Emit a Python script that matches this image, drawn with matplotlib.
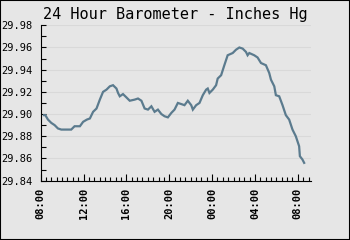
import matplotlib
matplotlib.use("Agg")
import matplotlib.pyplot as plt
from matplotlib.ticker import MultipleLocator, FixedLocator, FuncFormatter

# hours since 08:00 on day 1
hours = [0.31, 0.43, 0.68, 0.99, 1.30, 1.61, 1.92, 2.26, 2.54, 2.85, 3.16, 3.66, 3.96,
         4.31, 4.59, 4.89, 5.21, 5.52, 5.82, 6.14, 6.45, 6.75, 7.07, 7.22, 7.38, 7.68,
         8.00, 8.31, 8.77, 9.08, 9.40, 9.70, 10.01, 10.33, 10.63, 10.94, 11.26, 11.56,
         11.87, 12.19, 12.49, 12.80, 13.12, 13.42, 13.73, 14.05, 14.20, 14.51, 14.82,
         15.13, 15.44, 15.59, 15.75, 16.06, 16.37, 16.52, 16.84, 17.14, 17.45, 17.92,
         18.23, 18.54, 18.85, 19.16, 19.31, 19.47, 19.93, 20.24, 20.56, 21.02, 21.33,
         21.49, 21.80, 21.95, 22.26, 22.57, 22.88, 23.19, 23.50, 23.81, 24.12, 24.19,
         24.43, 24.59]
pressure = [29.899, 29.899, 29.895, 29.892, 29.890, 29.887, 29.886, 29.886, 29.886,
            29.886, 29.889, 29.889, 29.893, 29.895, 29.896, 29.902, 29.905, 29.913,
            29.920, 29.922, 29.925, 29.926, 29.923, 29.919, 29.916, 29.918, 29.915,
            29.912, 29.913, 29.914, 29.912, 29.905, 29.904, 29.907, 29.902, 29.904,
            29.900, 29.898, 29.897, 29.901, 29.904, 29.910, 29.909, 29.908, 29.912,
            29.908, 29.904, 29.908, 29.910, 29.917, 29.922, 29.923, 29.919, 29.922,
            29.926, 29.932, 29.935, 29.944, 29.953, 29.955, 29.958, 29.960, 29.959,
            29.956, 29.953, 29.955, 29.953, 29.951, 29.946, 29.944, 29.937, 29.931,
            29.925, 29.917, 29.916, 29.908, 29.899, 29.895, 29.886, 29.880, 29.871,
            29.862, 29.859, 29.856]

x_tick_hours = [0, 4, 8, 12, 16, 20, 24]
x_tick_labels = ["08:00", "12:00", "16:00", "20:00", "00:00", "04:00", "08:00"]
y_ticks = [29.84, 29.86, 29.88, 29.90, 29.92, 29.94, 29.96, 29.98]

bg = "#e6e6e6"
fig = plt.figure(figsize=(3.5, 2.4), dpi=100, facecolor=bg)
ax = fig.add_axes([40.7 / 350, 1 - 180.6 / 240, 270 / 350, (180.6 - 25.3) / 240])
ax.set_facecolor(bg)

ax.plot(hours, pressure, color="#5b7b8e", lw=1.6, solid_joinstyle="miter")

ax.set_xlim(0, 25.2)
ax.set_ylim(29.84, 29.98)

ax.xaxis.set_major_locator(FixedLocator(x_tick_hours))
ax.set_xticklabels(x_tick_labels, rotation=90, family="DejaVu Sans Mono",
                   fontsize=7.5, fontweight="bold")
ax.xaxis.set_minor_locator(MultipleLocator(0.5))
ax.set_yticks(y_ticks)
ax.set_yticklabels(["%.2f" % v for v in y_ticks], family="DejaVu Sans Mono", fontsize=7.5)
ax.yaxis.set_minor_locator(MultipleLocator(0.01))

ax.tick_params(axis="both", which="both", direction="in", color="black", width=0.8)
ax.tick_params(axis="x", which="major", length=5, pad=5)
ax.tick_params(axis="x", which="minor", length=3)
ax.tick_params(axis="y", which="major", length=3.5, pad=6)
ax.tick_params(axis="y", which="minor", length=3.5)

for s in ["top", "right"]:
    ax.spines[s].set_visible(False)
for s in ["left", "bottom"]:
    ax.spines[s].set_color("black")
    ax.spines[s].set_linewidth(0.8)

ax.grid(axis="y", which="major", color="#d9d9d9", lw=0.8)
ax.set_axisbelow(True)

fig.text(0.5, 1 - 15 / 240, "24 Hour Barometer - Inches Hg", ha="center", va="center",
         family="DejaVu Sans Mono", fontsize=11)

fig.patches.append(plt.Rectangle((0, 0), 1, 1, transform=fig.transFigure, fill=False,
                                 edgecolor="black", lw=1.5))

fig.savefig("out.png", dpi=100, facecolor=bg)
